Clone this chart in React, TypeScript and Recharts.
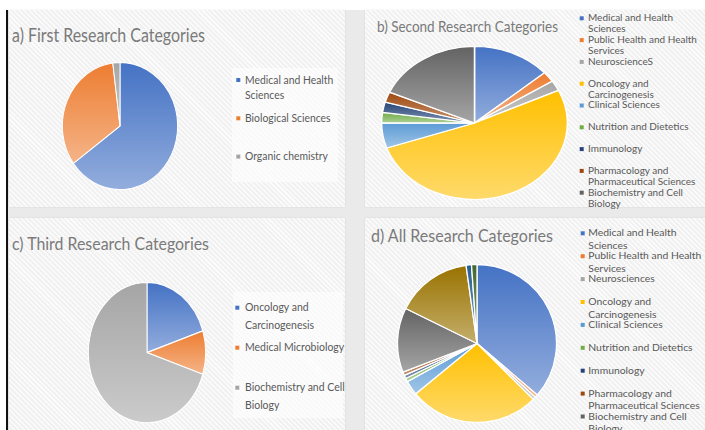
import React from "react";
import { PieChart, Pie, Cell } from "recharts";

// office palette, in legend order
const palette = ["#4472C4", "#ED7D31", "#A5A5A5", "#FFC000", "#5B9BD5", "#70AD47", "#264478", "#9E480E", "#636363", "#997300", "#255E91", "#43682B"];

const firstCats = ["Medical and Health Sciences", "Biological Sciences", "Organic  chemistry"];
const firstVals = [65, 33, 2];

const secondCats = [
  "Medical and Health Sciences",
  "Public Health and Health Services",
  "NeuroscienceS",
  "Oncology and Carcinogenesis",
  "Clinical Sciences",
  "Nutrition and Dietetics",
  "Immunology",
  "Pharmacology and Pharmaceutical Sciences",
  "Biochemistry and Cell Biology",
];
const secondVals = [13.6, 2.2, 2.2, 51.7, 5.3, 2.2, 2.2, 2.2, 18.4];

const thirdCats = ["Oncology and Carcinogenesis", "Medical Microbiology", "Biochemistry and Cell Biology"];
const thirdVals = [20, 10, 70];

const allCats = [
  "Medical and Health Sciences",
  "Public Health and Health Services",
  "Neurosciences",
  "Oncology and Carcinogenesis",
  "Clinical Sciences",
  "Nutrition and Dietetics",
  "Immunology",
  "Pharmacology and Pharmaceutical Sciences",
  "Biochemistry and Cell Biology",
  "Biological Sciences",
  "Organic chemistry",
  "Medical Microbiology",
];
const allVals = [36.3, 0.6, 0.6, 26.5, 3.0, 0.7, 0.7, 0.7, 13.2, 15.5, 1.1, 1.1];

function lighten(hex: string, t: number) {
  const n = parseInt(hex.slice(1), 16);
  const r = (n >> 16) & 255, g = (n >> 8) & 255, b = n & 255;
  const m = (c: number) => Math.round(c + (255 - c) * t);
  return `rgb(${m(r)},${m(g)},${m(b)})`;
}

function wrap(label: string, max = 24) {
  const lines: string[] = [];
  let cur = "";
  label.split(" ").forEach((w) => {
    const next = cur || w === "" ? cur + " " + w : w;
    if (next.length > max && cur) {
      lines.push(cur);
      cur = w;
    } else cur = next;
  });
  if (cur) lines.push(cur);
  return lines;
}

const panels = [
  {
    id: "a", title: "a) First Research Categories", cats: firstCats, vals: firstVals,
    box: [9, 10, 336, 197], pie: [120, 126, 58, 64],
    t: { x: 12, y: 41.7, w: 193, fs: 18.5 },
    lg: { mx: 238.3, tx: 245, y0: 80, step: 38.3, lh: 15, fs: 11.3, sx: 0.92, n: 3 },
    lbox: [232, 68, 106, 114],
  },
  {
    id: "b", title: "b) Second Research Categories", cats: secondCats, vals: secondVals,
    box: [365, 10, 345, 197], pie: [474, 122.5, 93.5, 77],
    t: { x: 377, y: 31.7, w: 181, fs: 15 },
    lg: { mx: 581.7, tx: 588, y0: 18.3, step: 21.8, lh: 11, fs: 9.1, sx: 1.1, n: 9 },
  },
  {
    id: "c", title: "c) Third Research Categories", cats: thirdCats, vals: thirdVals,
    box: [9, 218, 336, 230], pie: [147, 352.3, 59, 70.6],
    t: { x: 12, y: 250, w: 197, fs: 18 },
    lg: { mx: 237.3, tx: 245, y0: 307.7, step: 40, lh: 18, fs: 11.8, sx: 0.89, n: 3 },
    lbox: [233, 292, 110, 126],
  },
  {
    // legend runs past the bottom of the picture, only the first nine show
    id: "d", title: "d) All Research Categories", cats: allCats, vals: allVals,
    box: [365, 218, 345, 230], pie: [477, 343, 80, 79.5],
    t: { x: 371, y: 242.3, w: 182, fs: 16.5 },
    lg: { mx: 582.7, tx: 588.3, y0: 233.3, step: 22.9, lh: 12.6, fs: 9.6, sx: 1.08, n: 9 },
  },
];

const R = 80;
const font = "Lato, 'Open Sans', sans-serif";

function PanelPie({ p }: { p: (typeof panels)[number] }) {
  const [cx, cy, rx, ry] = p.pie;
  const data = p.cats.map((name, i) => ({ name, value: p.vals[i] }));
  return (
    <div
      style={{
        position: "absolute",
        left: cx - rx,
        top: cy - ry,
        width: 2 * R,
        height: 2 * R,
        transform: `scale(${rx / R}, ${ry / R})`,
        transformOrigin: "0 0",
      }}
    >
      <PieChart width={2 * R} height={2 * R} margin={{ top: 0, right: 0, bottom: 0, left: 0 }}>
        <defs>
          {p.cats.map((_, i) => (
            <linearGradient key={i} id={`grad-${p.id}-${i}`} x1="0" y1="0" x2="0" y2="1">
              <stop offset="0%" stopColor={palette[i]} />
              <stop offset="100%" stopColor={lighten(palette[i], 0.42)} />
            </linearGradient>
          ))}
        </defs>
        <Pie
          data={data}
          dataKey="value"
          nameKey="name"
          cx={R}
          cy={R}
          outerRadius={R - 0.5}
          startAngle={90}
          endAngle={-270}
          stroke="#ffffff"
          strokeWidth={1.3}
          isAnimationActive={false}
        >
          {data.map((_, i) => (
            <Cell key={i} fill={`url(#grad-${p.id}-${i})`} />
          ))}
        </Pie>
      </PieChart>
    </div>
  );
}

export default function App() {
  return (
    <div style={{ position: "fixed", left: 0, top: 0, width: 705, height: 430, overflow: "hidden", background: "#ffffff" }}>
      <div style={{ position: "absolute", left: 8, top: 10, width: 697, height: 420, background: "#eaeaea" }} />
      {panels.map((p) => (
        <div
          key={p.id}
          style={{
            position: "absolute",
            left: p.box[0],
            top: p.box[1],
            width: p.box[2],
            height: p.box[3],
            background: "repeating-linear-gradient(45deg, #f1f1f1 0px, #f1f1f1 2px, #fbfbfb 2px, #fbfbfb 3.5px)",
            boxShadow: "0 0 2px rgba(0,0,0,0.08)",
          }}
        />
      ))}
      <div style={{ position: "absolute", left: 6, top: 10, width: 2, height: 420, background: "#111" }} />
      {panels.map((p) => (
        <PanelPie key={p.id} p={p} />
      ))}
      <svg width={705} height={430} style={{ position: "absolute", left: 0, top: 0, whiteSpace: "pre" }} fontFamily={font}>
        {panels.map((p) => (
          <g key={p.id}>
            {p.lbox && <rect x={p.lbox[0]} y={p.lbox[1]} width={p.lbox[2]} height={p.lbox[3]} fill="#ffffff" fillOpacity={0.55} />}
            <text x={p.t.x} y={p.t.y} fontSize={p.t.fs} fill="#7a7a7a" textLength={p.t.w} lengthAdjust="spacingAndGlyphs">
              {p.title}
            </text>
            {p.cats.slice(0, p.lg.n).map((c, i) => {
              const y = p.lg.y0 + i * p.lg.step;
              return (
                <g key={c}>
                  <rect x={p.lg.mx - 2} y={y - 2} width={4} height={4} fill={palette[i]} />
                  <g transform={`translate(${p.lg.tx},0) scale(${p.lg.sx},1)`}>
                    {wrap(c).map((line, k) => (
                      <text key={k} x={0} y={y + k * p.lg.lh + p.lg.fs * 0.32} fontSize={p.lg.fs} fill="#595959">
                        {line}
                      </text>
                    ))}
                  </g>
                </g>
              );
            })}
          </g>
        ))}
      </svg>
    </div>
  );
}
